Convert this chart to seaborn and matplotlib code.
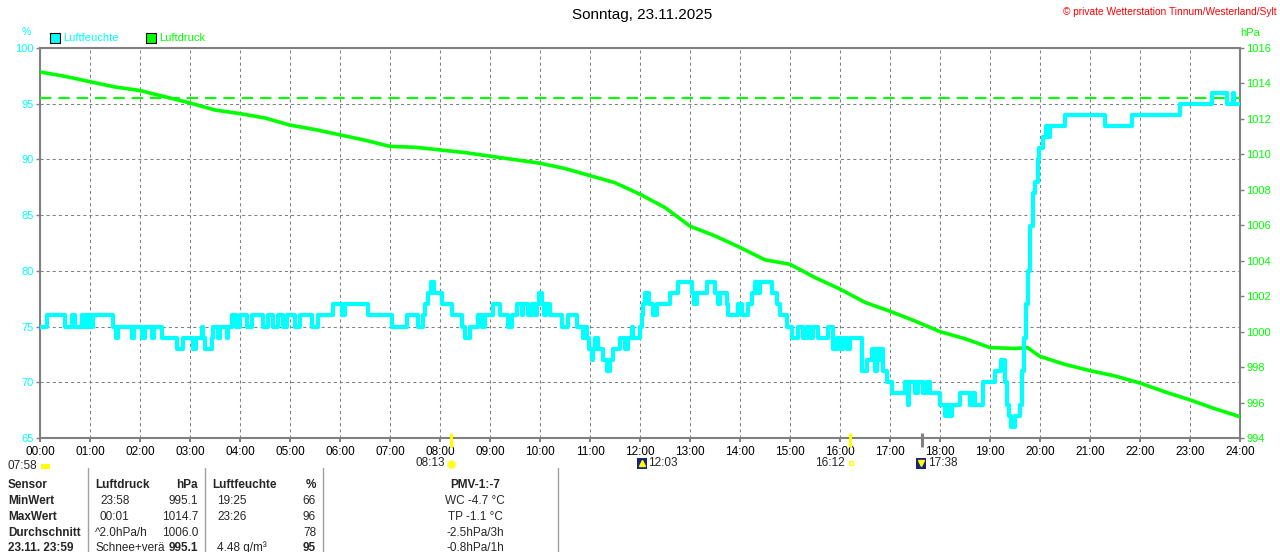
#!/usr/bin/env python3
"""
Tagesgrafik Luftfeuchte / Luftdruck  -  Sonntag, 23.11.2025
"""

import matplotlib
matplotlib.use("Agg")
import matplotlib.pyplot as plt
import seaborn as sns
import numpy as np
import pandas as pd
from matplotlib.lines import Line2D
from matplotlib.patches import Rectangle

druck_zeit = [
    "00:00", "00:30", "01:00", "01:30", "02:00", "02:30", "03:00", "03:30",
    "04:00", "04:30", "05:00", "05:30", "06:00", "06:30", "07:00", "07:30",
    "08:00", "08:30", "09:00", "09:30", "10:00", "10:30", "11:00", "11:30",
    "12:00", "12:30", "13:00", "13:30", "14:00", "14:30", "15:00", "15:30",
    "16:00", "16:30", "17:00", "17:30", "18:00", "18:30", "19:00", "19:30",
    "19:45", "20:00", "20:30", "21:00", "21:30", "22:00", "22:30", "23:00",
    "23:30", "24:00",
]
druck_hpa = [
    1014.65, 1014.4, 1014.1, 1013.8, 1013.6, 1013.25, 1012.9, 1012.5,
    1012.3, 1012.05, 1011.65, 1011.4, 1011.1, 1010.8, 1010.45, 1010.4,
    1010.25, 1010.1, 1009.9, 1009.7, 1009.5, 1009.2, 1008.8, 1008.4,
    1007.75, 1007.0, 1005.95, 1005.4, 1004.75, 1004.05, 1003.8, 1003.05,
    1002.4, 1001.65, 1001.15, 1000.6, 1000.0, 999.6, 999.1, 999.05,
    999.1, 998.6, 998.15, 997.8, 997.5, 997.1, 996.6, 996.15,
    995.65, 995.2,
]
druck_ref = 1013.2

# Luftfeuchte (%), Stufenwerte: gilt ab Minute des Tages
feuchte_min = [
    0, 8, 30, 38, 42, 50, 52, 54, 56, 58, 60, 64, 88, 91, 94, 110, 113, 122,
    126, 134, 137, 146, 164, 171, 184, 187, 194, 196, 198, 206, 208, 214, 216,
    224, 226, 230, 235, 240, 248, 254, 268, 274, 280, 286, 292, 296, 306, 312,
    326, 334, 352, 362, 366, 394, 422, 440, 454, 459, 462, 466, 469, 473, 482,
    494, 506, 510, 516, 526, 530, 534, 544, 552, 562, 566, 572, 578, 580, 586,
    590, 594, 596, 599, 602, 605, 607, 612, 626, 634, 644, 652, 654, 656, 659,
    662, 664, 666, 670, 676, 680, 684, 688, 696, 702, 706, 710, 712, 720, 722,
    724, 726, 731, 736, 740, 756, 766, 782, 785, 788, 800, 810, 814, 816, 824,
    826, 838, 842, 850, 854, 858, 862, 864, 878, 884, 888, 896, 902, 910, 916,
    920, 924, 928, 934, 946, 952, 956, 960, 964, 968, 972, 986, 992, 998, 1002,
    1004, 1008, 1010, 1012, 1016, 1022, 1038, 1041, 1043, 1050, 1054, 1060,
    1064, 1068, 1080, 1086, 1088, 1092, 1094, 1104, 1116, 1120, 1122, 1132,
    1146, 1153, 1158, 1160, 1163, 1165, 1170, 1176, 1178, 1181, 1183, 1185,
    1188, 1191, 1194, 1197, 1199, 1203, 1207, 1210, 1212, 1230, 1278, 1310,
    1368, 1406, 1424, 1431, 1433, 1440,
]
feuchte_pct = [
    75, 76, 75, 76, 75, 76, 75, 76, 75, 76, 75, 76, 75, 74, 75, 74, 75, 74,
    75, 74, 75, 74, 73, 74, 73, 74, 75, 74, 73, 74, 75, 74, 75,
    74, 75, 76, 75, 76, 75, 76, 75, 76, 75, 76, 75, 76, 75, 76,
    75, 76, 77, 76, 77, 76, 75, 76, 75, 76, 77, 78, 79, 78, 77,
    76, 75, 74, 75, 76, 75, 76, 77, 76, 75, 76, 77, 76, 77, 76,
    77, 76, 77, 78, 77, 76, 77, 76, 75, 76, 75, 74, 75, 74, 73,
    72, 73, 74, 73, 72, 71, 72, 73, 74, 73, 74, 75, 74, 75, 76,
    77, 78, 77, 76, 77, 78, 79, 78, 77, 78, 79, 78, 77, 78, 77,
    76, 77, 76, 77, 78, 79, 78, 79, 78, 77, 76, 75, 74, 75, 74,
    75, 74, 75, 74, 75, 73, 74, 73, 74, 73, 74, 71, 72, 73, 71,
    73, 72, 73, 71, 70, 69, 70, 68, 70, 69, 70, 69,
    70, 69, 68, 67, 68, 67, 68, 69, 68, 69, 68, 70,
    71, 72, 70, 68, 67, 66, 67, 68, 71, 74, 77, 80,
    84, 87, 88, 90, 91, 92, 93, 92, 93, 94, 93, 94,
    95, 96, 95, 96, 95, 95,
]

# Achsen
stunden_labels = [f"{h:02d}:00" for h in range(25)]
feuchte_ticks = [65, 70, 75, 80, 85, 90, 95, 100]
druck_ticks = [994, 996, 998, 1000, 1002, 1004, 1006, 1008, 1010, 1012, 1014, 1016]

# Sonne / Mond (Marken auf der Zeitachse)
ereignis_zeit = ["08:13", "16:12", "17:38"]
ereignis_farbe = ["#FFFF00", "#FFFF00", "#808080"]

# Tabelle unten
tab_zeilen = ["Sensor", "MinWert", "MaxWert", "Durchschnitt", "23.11. 23:59"]
tab_druck_zeit = ["Luftdruck", "23:58", "00:01", "^2.0hPa/h", "Schnee+verä"]
tab_druck_wert = ["hPa", "995.1", "1014.7", "1006.0", "995.1"]
tab_feuchte_zeit = ["Luftfeuchte", "19:25", "23:26", "", "4.48 g/m³"]
tab_feuchte_wert = ["%", "66", "96", "78", "95"]
tab_pmv = ["PMV-1:-7", "WC -4.7 °C", "TP -1.1 °C", "-2.5hPa/3h", "-0.8hPa/1h"]

CYAN = "#00FFFF"
GRUEN = "#00FF00"
GRAU = "#808080"

W, H = 1280, 552


def fx(px):
    return px / W


def fy(py):
    return 1 - py / H


def zu_stunden(s):
    h, m = s.split(":")
    return int(h) + int(m) / 60


sns.set_style("white")
plt.rcParams["font.family"] = ["Liberation Sans", "DejaVu Sans"]
plt.rcParams["lines.scale_dashes"] = False

druck_df = pd.DataFrame({"t": [zu_stunden(s) for s in druck_zeit], "p": druck_hpa})
feuchte_df = pd.DataFrame({"t": np.array(feuchte_min) / 60, "h": feuchte_pct})

fig = plt.figure(figsize=(W / 100, H / 100), dpi=100)
fig.patch.set_facecolor("white")

# Grundachse: Gitter + linke Skala (Luftfeuchte)
ax = fig.add_axes([fx(40), fy(438), fx(1200), 390 / H])
ax.set_xlim(0, 24)
ax.set_ylim(65, 100)
ax.set_xticks(range(25))
ax.set_xticklabels(stunden_labels, fontsize=8.5, color="black")
ax.set_yticks(feuchte_ticks)
ax.set_yticklabels([str(v) for v in feuchte_ticks], fontsize=8, color=CYAN)
ax.tick_params(axis="x", length=3, width=1.4, color=GRAU, pad=3, direction="out", bottom=True)
ax.tick_params(axis="y", length=3, width=1.0, color=GRAU, pad=1.5, direction="out", left=True)
ax.grid(True, color=GRAU, linestyle=(0, (2.2, 2.2)), linewidth=0.75)
for sp in ax.spines.values():
    sp.set_color(GRAU)
    sp.set_linewidth(1.5)
    sp.set_visible(True)

# Luftdruck (rechte Skala)
axp = ax.twinx()
axp.set_ylim(994, 1016)
axp.set_yticks(druck_ticks)
axp.set_yticklabels([str(v) for v in druck_ticks], fontsize=8, color=GRUEN)
axp.tick_params(axis="y", length=3, width=1.0, color=GRAU, pad=1.5, direction="out", right=True)
for sp in axp.spines.values():
    sp.set_visible(False)
axp.axhline(druck_ref, color=GRUEN, linewidth=1.5, linestyle=(0, (8.2, 5.0)), zorder=1)
sns.lineplot(data=druck_df, x="t", y="p", ax=axp, color=GRUEN, linewidth=2.6,
             estimator=None, sort=False, zorder=2)
axp.set_xlabel("")
axp.set_ylabel("")

# Luftfeuchte (oberste Ebene)
axh = ax.twinx()
axh.set_ylim(65, 100)
axh.set_yticks([])
for sp in axh.spines.values():
    sp.set_visible(False)
sns.lineplot(data=feuchte_df, x="t", y="h", ax=axh, color=CYAN, linewidth=3.0,
             estimator=None, sort=False, drawstyle="steps-post")
axh.set_xlabel("")
axh.set_ylabel("")
axh.set_xlim(0, 24)
ax.set_xlabel("")
ax.set_ylabel("")

# Sonnen-/Mondmarken auf der Zeitachse
xt = ax.get_xaxis_transform()
for s, c in zip(ereignis_zeit, ereignis_farbe):
    ax.plot([zu_stunden(s)] * 2, [0.012, -0.024], color=c, linewidth=2.2,
            transform=xt, clip_on=False, zorder=5, solid_capstyle="butt")

# Titel und Beschriftungen oben
fig.text(0.5 + 2 / W, fy(15), "Sonntag, 23.11.2025", ha="center", va="center",
         fontsize=11, color="black")
fig.text(fx(1277), fy(12), "© private Wetterstation Tinnum/Westerland/Sylt",
         ha="right", va="center", fontsize=7.3, color="#FF0000")
fig.text(fx(26), fy(32), "%", ha="center", va="center", fontsize=7.5, color=CYAN)
fig.text(fx(1250), fy(33), "hPa", ha="center", va="center", fontsize=8, color=GRUEN)

# Legende
for x0, farbe, name in [(50, CYAN, "Luftfeuchte"), (146, GRUEN, "Luftdruck")]:
    fig.patches.append(Rectangle((fx(x0), fy(43)), fx(10), 10 / H, facecolor=farbe,
                                 edgecolor="black", linewidth=0.8,
                                 transform=fig.transFigure, figure=fig))
    fig.text(fx(x0 + 13), fy(38), name, ha="left", va="center", fontsize=8, color=farbe)

# Zeiten unter der Achse
fig.text(fx(37), fy(466), "07:58", ha="right", va="center", fontsize=8.5)
fig.patches.append(Rectangle((fx(41), fy(469)), fx(9), 5 / H, facecolor="#FFFF00",
                             edgecolor="none", transform=fig.transFigure, figure=fig))
fig.text(fx(445), fy(463), "08:13", ha="right", va="center", fontsize=8.5)
fig.add_artist(Line2D([fx(451)], [fy(464)], marker="o", markersize=6,
                      color="#FFFF00", markeredgecolor="#FFF4A0", transform=fig.transFigure))
fig.text(fx(648), fy(463), "12:03", ha="left", va="center", fontsize=8.5)
fig.patches.append(Rectangle((fx(637), fy(469)), fx(10), 11 / H, facecolor="#1A237E",
                             edgecolor="none", transform=fig.transFigure, figure=fig))
fig.add_artist(Line2D([fx(642)], [fy(463)], marker="^", markersize=4,
                      color="#FFFF00", linestyle="none", transform=fig.transFigure))
fig.text(fx(845), fy(463), "16:12", ha="right", va="center", fontsize=8.5)
fig.add_artist(Line2D([fx(851)], [fy(463)], marker="s", markersize=3.5,
                      markerfacecolor="none", markeredgecolor="#FFFF00",
                      linestyle="none", transform=fig.transFigure))
fig.text(fx(928), fy(463), "17:38", ha="left", va="center", fontsize=8.5)
fig.patches.append(Rectangle((fx(916), fy(469)), fx(10), 11 / H, facecolor="#1A237E",
                             edgecolor="none", transform=fig.transFigure, figure=fig))
fig.add_artist(Line2D([fx(921)], [fy(463)], marker="v", markersize=4,
                      color="#FFFF00", linestyle="none", transform=fig.transFigure))

# Tabelle
for xs in [88, 205, 323, 558]:
    fig.add_artist(Line2D([fx(xs), fx(xs)], [fy(468), fy(552)], color="#A0A0A0",
                          linewidth=1.0, transform=fig.transFigure))

zeilen_y = [485, 501, 517, 533, 548]
for i, y in enumerate(zeilen_y):
    kopf = i == 0
    fig.text(fx(8), fy(y), tab_zeilen[i], ha="left", va="center", fontsize=8.5,
             fontweight="bold")
    fig.text(fx(95 if kopf or i >= 3 else 100), fy(y), tab_druck_zeit[i], ha="left",
             va="center", fontsize=8.5, fontweight="bold" if kopf else "normal")
    fig.text(fx(198), fy(y), tab_druck_wert[i], ha="right", va="center", fontsize=8.5,
             fontweight="bold" if kopf or i == 4 else "normal")
    fig.text(fx(212 if kopf else 217), fy(y), tab_feuchte_zeit[i], ha="left",
             va="center", fontsize=8.5, fontweight="bold" if kopf else "normal")
    fig.text(fx(316), fy(y), tab_feuchte_wert[i], ha="right", va="center", fontsize=8.5,
             fontweight="bold" if kopf or i == 4 else "normal")
    fig.text(fx(475), fy(y), tab_pmv[i], ha="center", va="center", fontsize=8.5,
             fontweight="bold" if kopf else "normal")

fig.savefig("out.png", dpi=100, facecolor="white")
plt.close(fig)
